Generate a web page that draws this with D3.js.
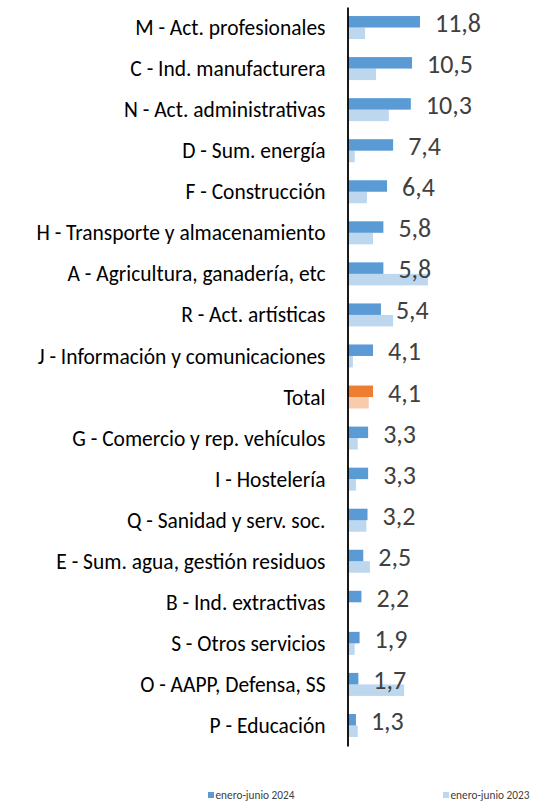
<!DOCTYPE html>
<html>
<head>
<meta charset="utf-8">
<script src="https://cdn.jsdelivr.net/npm/d3@7"></script>
<style>
  html, body { margin: 0; padding: 0; background: #fff; }
  svg { display: block; }
</style>
</head>
<body>
<div id="chart"></div>
<script>
const categories = [
  "M - Act. profesionales",
  "C - Ind. manufacturera",
  "N - Act. administrativas",
  "D - Sum. energía ",
  "F - Construcción",
  "H - Transporte y almacenamiento",
  "A - Agricultura, ganadería, etc",
  "R - Act. artísticas",
  "J - Información y comunicaciones",
  "Total",
  "G - Comercio y rep. vehículos",
  "I - Hostelería",
  "Q - Sanidad y serv. soc.",
  "E - Sum. agua, gestión residuos",
  "B - Ind. extractivas",
  "S - Otros servicios",
  "O - AAPP, Defensa, SS",
  "P - Educación"
];
const values2024 = [11.8, 10.5, 10.3, 7.4, 6.4, 5.8, 5.8, 5.4, 4.1, 4.1, 3.3, 3.3, 3.2, 2.5, 2.2, 1.9, 1.7, 1.3];
const values2023 = [2.8, 4.6, 6.7, 1.1, 3.1, 4.1, 13.1, 7.4, 0.8, 3.4, 1.6, 1.3, 3.0, 3.6, 0.0, 1.1, 9.2, 1.6];
const seriesNames = ["enero-junio 2024", "enero-junio 2023"];

const W = 533, H = 801;
const FONT = "Carlito, Calibri, Lato, sans-serif";
const colors = { s2024: "#5B9BD5", s2023: "#BDD7EE", t2024: "#ED7D31", t2023: "#F8CBAD" };

const svg = d3.select("#chart").append("svg").attr("width", W).attr("height", H);

// font size that makes a sample text reach a target width
function fitSize(sample, target) {
  const t = svg.append("text").attr("font-family", FONT).attr("font-size", 100).text(sample);
  const w = t.node().getComputedTextLength();
  t.remove();
  return 100 * target / w;
}
const catSize = fitSize("J - Información y comunicaciones", 288);
const valSize = fitSize("11,8", 46);
const legSize = fitSize("enero-junio 2024", 79);

const x0 = 348;
const x = d3.scaleLinear().domain([0, 14]).range([x0, x0 + 14 * 6.1]);
const y = d3.scaleBand().domain(categories).range([7, 746]).paddingInner(0.44).paddingOuter(0.22);
const sub = d3.scaleBand().domain(["2024", "2023"]).range([0, y.bandwidth()]);

const rows = categories.map((c, i) => ({ c, v24: values2024[i], v23: values2023[i], total: c === "Total" }));

const g = svg.append("g");

// 2023 bars
g.selectAll("rect.b23").data(rows).join("rect")
  .attr("class", "b23")
  .attr("x", x(0))
  .attr("y", d => y(d.c) + sub("2023"))
  .attr("width", d => x(d.v23) - x(0))
  .attr("height", sub.bandwidth())
  .attr("fill", d => d.total ? colors.t2023 : colors.s2023);

// 2024 bars
g.selectAll("rect.b24").data(rows).join("rect")
  .attr("class", "b24")
  .attr("x", x(0))
  .attr("y", d => y(d.c) + sub("2024"))
  .attr("width", d => x(d.v24) - x(0))
  .attr("height", sub.bandwidth())
  .attr("fill", d => d.total ? colors.t2024 : colors.s2024);

// value labels
const fmt = v => v.toFixed(1).replace(".", ",");
g.selectAll("text.val").data(rows).join("text")
  .attr("class", "val")
  .attr("x", d => x(d.v24) + 15)
  .attr("y", d => y(d.c) + y.bandwidth() / 2 + 4.5)
  .attr("font-family", FONT)
  .attr("font-size", valSize)
  .attr("fill", "#404040")
  .text(d => fmt(d.v24));

// y axis
const axis = svg.append("g")
  .attr("transform", `translate(${x0 - 0.5},0)`)
  .call(d3.axisLeft(y).tickSize(0).tickPadding(22));
axis.select(".domain").attr("stroke", "#000").attr("stroke-width", 1.8);
axis.selectAll(".tick text")
  .attr("font-family", FONT)
  .attr("font-size", catSize)
  .attr("fill", "#000")
  .attr("dy", "0.35em");

// legend
const legend = svg.append("g").attr("font-family", FONT).attr("font-size", legSize).attr("fill", "#404040");
const legendItems = [
  { name: seriesNames[0], color: colors.s2024, x: 208 },
  { name: seriesNames[1], color: colors.s2023, x: 443 }
];
const li = legend.selectAll("g").data(legendItems).join("g").attr("transform", d => `translate(${d.x},792)`);
li.append("rect").attr("width", 6).attr("height", 6).attr("fill", d => d.color);
li.append("text").attr("x", 7.5).attr("y", 7).text(d => d.name);
</script>
</body>
</html>
